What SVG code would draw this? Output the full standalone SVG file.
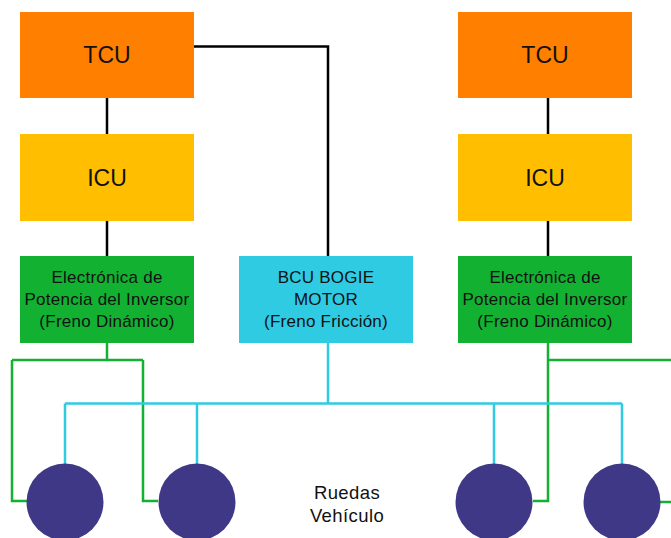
<svg xmlns="http://www.w3.org/2000/svg" width="671" height="538" viewBox="0 0 671 538">
<style>
text{font-family:"Liberation Sans",Arial,sans-serif;fill:#111;text-anchor:middle}
.big{font-size:23px}
.mid{font-size:17px;letter-spacing:0.25px}
.lbl{font-size:18.5px;letter-spacing:0.4px}
.blk{stroke:#000;stroke-width:2.5;fill:none}
.grn{stroke:#12B132;stroke-width:2.5;fill:none}
.cyn{stroke:#2ECBE3;stroke-width:2.5;fill:none}
.wheel{fill:#3F3886}
</style>
<rect width="671" height="538" fill="#fff"/>
<g id="connectors">
<path class="blk" d="M107 98V134M107 221V256M548 98V134M548 221V256M194 46.5H328V256"/>
<path class="grn" d="M107 343V360M12 360H143M12 360V501H27M143 360V501H158"/>
<path class="grn" d="M548 343V501H533M548 360H671M660 502H671"/>
<path class="cyn" d="M328 343V403.5M65 403.5H622M65 403.5V464M197 403.5V464M494 403.5V464M622 403.5V464"/>
</g>
<g id="tcu1"><rect x="20" y="12" width="174" height="86" fill="#FF7F00"/><text class="big" x="107" y="63">TCU</text></g>
<g id="icu1"><rect x="20" y="134" width="174" height="87" fill="#FFBF00"/><text class="big" x="107" y="186">ICU</text></g>
<g id="inv1"><rect x="20" y="256" width="174" height="87" fill="#12B132"/><text class="mid" x="107" y="283">Electrónica de</text><text class="mid" x="107" y="305">Potencia del Inversor</text><text class="mid" x="107" y="327">(Freno Dinámico)</text></g>
<g id="bcu"><rect x="239" y="256" width="174" height="87" fill="#2ECBE3"/><text class="mid" x="326" y="283">BCU BOGIE</text><text class="mid" x="326" y="305">MOTOR</text><text class="mid" x="326" y="327">(Freno Fricción)</text></g>
<g id="tcu2"><rect x="458" y="12" width="174" height="86" fill="#FF7F00"/><text class="big" x="545" y="63">TCU</text></g>
<g id="icu2"><rect x="458" y="134" width="174" height="87" fill="#FFBF00"/><text class="big" x="545" y="186">ICU</text></g>
<g id="inv2"><rect x="458" y="256" width="174" height="87" fill="#12B132"/><text class="mid" x="545" y="283">Electrónica de</text><text class="mid" x="545" y="305">Potencia del Inversor</text><text class="mid" x="545" y="327">(Freno Dinámico)</text></g>
<g id="wheel1"><circle class="wheel" cx="65" cy="502" r="38.5"/></g>
<g id="wheel2"><circle class="wheel" cx="197" cy="502" r="38.5"/></g>
<g id="wheel3"><circle class="wheel" cx="494" cy="502" r="38.5"/></g>
<g id="wheel4"><circle class="wheel" cx="622" cy="502" r="38.5"/></g>
<g id="label"><text class="lbl" x="347" y="499">Ruedas</text><text class="lbl" x="347" y="522">Vehículo</text></g>
</svg>
